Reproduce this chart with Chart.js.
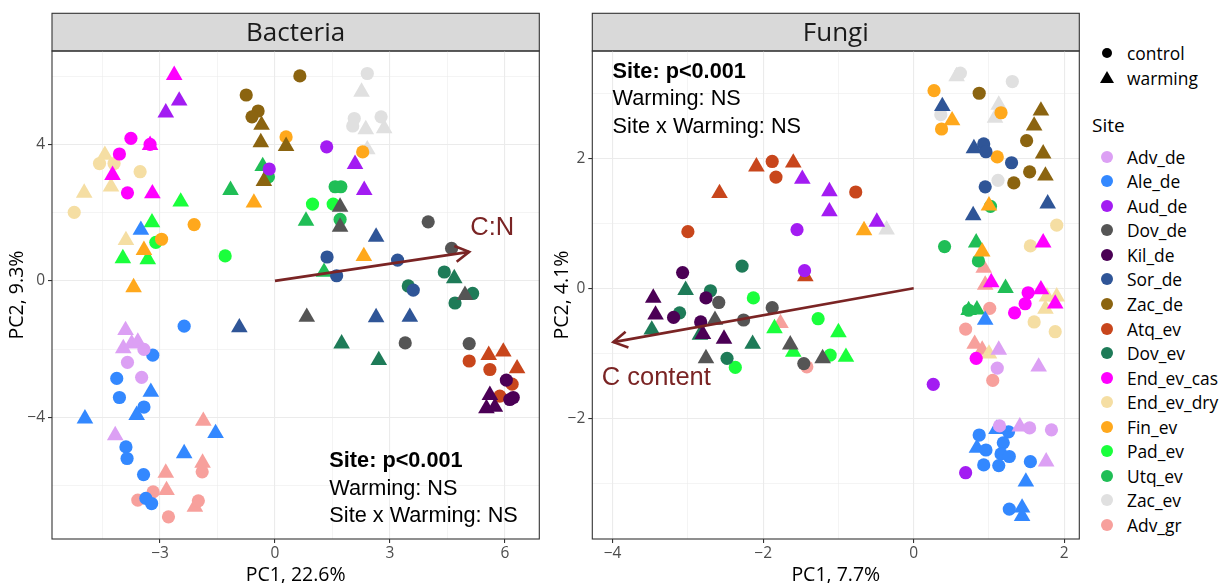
<!DOCTYPE html>
<html>
<head>
<meta charset="utf-8">
<script src="https://cdn.jsdelivr.net/npm/chart.js@4.4.1/dist/chart.umd.min.js"></script>
<style>
  html, body { margin:0; padding:0; background:#fff; }
  body { width:1223px; height:583px; position:relative; overflow:hidden; font-family:"Open Sans", sans-serif; }
  #c1 { position:absolute; left:0; top:0; }
  #c2 { position:absolute; left:545px; top:0; }
  .lt { position:absolute; color:#000; font-size:17.4px; line-height:22px; white-space:nowrap; }
  .dot { position:absolute; border-radius:50%; }
</style>
</head>
<body>
<canvas id="c1" width="545" height="583"></canvas>
<canvas id="c2" width="540" height="583"></canvas>
<div id="legend"></div>
<script>
// ---------------- DATA ----------------
const sites = ['Adv_de','Ale_de','Aud_de','Dov_de','Kil_de','Sor_de','Zac_de','Atq_ev','Dov_ev',
               'End_ev_cas','End_ev_dry','Fin_ev','Pad_ev','Utq_ev','Zac_ev','Adv_gr'];
const treatments = ['control','warming'];

// Bacteria: [PC1, PC2] pairs per site (order of `sites`)
const bacteriaControl = [
  [[-3.42,-2.01],[-3.85,-2.39],[-3.48,-2.83]],
  [[-2.37,-1.33],[-3.19,-2.18],[-4.13,-2.86],[-4.06,-3.42],[-3.42,-3.70],[-3.89,-4.87],[-3.86,-5.21],[-3.43,-5.68],[-3.37,-6.38],[-3.22,-6.53]],
  [[-0.15,3.28],[1.35,3.93]],
  [[4.00,1.73],[4.61,0.95],[3.40,-1.82],[5.07,-1.84]],
  [[6.04,-2.91],[6.22,-3.42],[6.13,-3.48]],
  [[1.36,0.70],[1.61,0.15],[3.20,0.61],[3.61,-0.27]],
  [[-0.75,5.45],[-0.44,4.98],[-0.60,4.81],[0.65,6.01]],
  [[5.07,-2.35],[5.61,-2.60],[6.19,-3.03],[5.87,-3.38]],
  [[3.48,-0.15],[4.42,0.26],[4.70,-0.65],[5.16,-0.37]],
  [[-3.76,4.18],[-4.06,3.72],[-3.26,4.00],[-3.85,2.58]],
  [[-4.58,3.44],[-4.20,3.44],[-3.52,3.20],[-5.24,2.01]],
  [[-2.96,1.22],[-2.11,1.65],[0.29,4.22],[2.29,3.78]],
  [[-3.11,1.13],[-1.30,0.73],[0.98,2.25],[1.52,2.25]],
  [[-0.17,3.05],[1.57,2.76],[1.72,2.76],[1.70,1.80]],
  [[2.41,6.08],[2.07,4.76],[2.03,4.54],[2.77,4.81]],
  [[-1.90,-5.60],[-3.18,-6.19],[-3.58,-6.43],[-2.78,-6.92],[-2.00,-6.45]]
];
const bacteriaWarming = [
  [[-3.90,-1.45],[-3.96,-1.98],[-3.74,-1.84],[-3.58,-1.79],[-4.17,-4.53]],
  [[-3.50,1.49],[-3.24,-3.26],[-3.61,-3.94],[-4.96,-4.04],[-2.37,-5.06],[-1.55,-4.47]],
  [[-2.50,5.28],[-2.85,4.93],[2.09,3.42],[2.33,2.66]],
  [[1.70,2.17],[1.70,1.58],[4.96,-0.42],[0.83,-1.06]],
  [[5.61,-3.35],[5.52,-3.74],[5.74,-3.70]],
  [[2.64,1.29],[2.64,-1.07],[3.52,-1.06],[-0.93,-1.37]],
  [[-0.35,4.57],[-0.37,4.06],[0.29,3.95],[-0.29,2.92]],
  [[5.58,-2.18],[5.96,-2.08],[6.32,-2.57]],
  [[4.68,0.07],[1.74,-1.84],[2.71,-2.33]],
  [[-2.63,6.03],[-3.26,3.98],[-4.24,3.10],[-3.20,2.56]],
  [[-4.44,3.69],[-4.28,2.76],[-4.98,2.58],[-3.89,1.19]],
  [[-3.42,0.90],[-3.69,-0.19],[-0.55,2.29],[2.32,0.72]],
  [[-2.46,2.32],[-3.21,1.71],[-3.97,0.66],[-3.32,0.63]],
  [[-1.16,2.66],[-0.32,3.36],[0.81,1.76],[1.28,0.26]],
  [[2.26,5.54],[2.37,4.44],[2.85,4.47],[2.41,3.85]],
  [[-1.87,-4.11],[-1.89,-5.34],[-2.85,-5.63],[-2.83,-6.14],[-2.09,-6.63]]
];

// Fungi: [PC1, PC2] pairs per site
const fungiControl = [
  [[1.11,-1.23],[1.14,-2.12],[1.54,-2.15],[1.83,-2.18]],
  [[0.87,-2.26],[1.26,-2.21],[1.19,-2.38],[0.96,-2.49],[1.16,-2.55],[1.27,-2.59],[0.93,-2.72],[1.13,-2.73],[1.55,-2.67],[1.27,-3.40]],
  [[-1.55,0.90],[-1.45,0.27],[0.26,-1.48],[0.69,-2.84]],
  [[-2.59,-0.22],[-2.26,-0.49],[-1.88,-0.30],[-1.46,-1.16]],
  [[-3.07,0.24],[-3.19,-0.45],[-2.76,-0.15],[-2.83,-0.52]],
  [[0.93,2.22],[0.96,2.10],[1.30,1.93],[0.95,1.56]],
  [[0.87,3.00],[1.50,2.27],[1.54,1.79],[1.33,1.62]],
  [[-1.88,1.95],[-1.83,1.71],[-0.77,1.48],[-3.00,0.87]],
  [[-2.70,-0.04],[-3.11,-0.38],[-2.28,0.34],[-2.48,-1.08]],
  [[1.52,-0.07],[1.48,-0.24],[1.34,-0.38],[0.83,-1.08]],
  [[1.90,0.97],[1.55,0.65],[1.60,-0.52],[1.88,-0.67]],
  [[0.27,3.04],[1.16,2.70],[0.37,2.45],[1.11,2.02]],
  [[-2.13,-0.15],[-1.27,-0.47],[-1.11,-1.03],[-2.37,-1.22]],
  [[1.02,1.26],[0.41,0.64],[0.86,0.42],[0.73,-0.34]],
  [[0.62,3.31],[1.31,3.18],[0.36,2.67],[1.12,1.66]],
  [[1.01,-0.31],[0.69,-0.63],[1.05,-1.42],[-1.42,-1.21]]
];
const fungiWarming = [
  [[1.13,-0.95],[1.66,-1.21],[1.41,-2.13],[1.76,-2.67]],
  [[0.95,-0.49],[1.10,-2.17],[0.84,-2.46],[1.49,-2.98],[1.44,-3.38],[1.44,-3.51]],
  [[-1.48,1.68],[-1.12,1.49],[-1.12,1.18],[-0.49,1.02]],
  [[-2.64,-0.49],[-2.76,-1.08],[-1.64,-0.87],[-1.21,-1.08]],
  [[-3.46,-0.15],[-3.43,-0.41],[-2.80,-0.71],[-2.52,-0.78]],
  [[0.38,2.80],[0.80,2.15],[0.79,1.12],[1.78,1.30]],
  [[1.69,2.73],[1.60,2.50],[1.72,2.07],[1.75,1.73]],
  [[-2.09,1.87],[-1.60,1.93],[-2.58,1.46],[-1.44,0.18]],
  [[-3.03,-0.03],[-3.48,-0.64],[-2.84,-0.72],[-2.14,-0.86]],
  [[1.72,0.70],[1.03,0.09],[1.69,-0.02],[1.88,-0.24]],
  [[1.77,-0.13],[1.90,-0.13],[1.75,-0.32],[1.00,-1.01]],
  [[0.51,2.58],[1.00,1.27],[0.91,0.56],[-0.66,0.89]],
  [[-1.85,-0.62],[-1.00,-0.68],[-0.90,-1.06],[-1.60,-0.98]],
  [[0.83,0.70],[1.22,0.00],[0.73,-0.34],[0.84,-0.33]],
  [[0.57,3.26],[1.13,2.82],[1.08,2.62],[-0.36,0.90]],
  [[0.93,0.31],[0.95,0.05],[0.81,-0.86],[0.91,-0.95],[-1.77,-0.54]]
];

// Tick labels
const bacteriaXTicks = [-3, 0, 3, 6];
const bacteriaYTicks = [-4, 0, 4];
const fungiXTicks = [-4, -2, 0, 2];
const fungiYTicks = [-2, 0, 2];

// Axis titles and facet titles
const panelTitles = ['Bacteria', 'Fungi'];
const bacteriaAxisTitles = ['PC1, 22.6%', 'PC2, 9.3%'];
const fungiAxisTitles = ['PC1, 7.7%', 'PC2, 4.1%'];

// Environmental vectors (end point) and their labels
const bacteriaVector = [5.07, 0.85];
const bacteriaVectorLabel = 'C:N';
const bacteriaVectorLabelAt = [5.67, 1.55];
const fungiVector = [-3.99, -0.83];
const fungiVectorLabel = 'C content';
const fungiVectorLabelAt = [-3.42, -1.38];

// PERMANOVA statistics text
const statsLines = ['Site: p<0.001', 'Warming: NS', 'Site x Warming: NS'];
const bacteriaStatsAt = [1.42, -5.29];
const fungiStatsAt = [-4.00, 3.33];

// ---------------- STYLE ----------------
const siteColors = ['#DCA0F4','#3388FF','#A31CF2','#555555','#4B0055','#2F5597','#8B6410','#C8461C',
                    '#1E7B58','#FF00FF','#F5DEA3','#FFA81C','#1AFF3C','#20BE56','#E0E0E0','#F7A09C'];
const ARROW = '#7A2424';
const CIRCLE_R = 6.6, TRI_R = 9.6;

function fmt(v){ return v < 0 ? '\u2212' + Math.abs(v) : String(v); }

function makeAxis(major, min, max, title, isX, fitSize) {
  const step = major[1] - major[0];
  const h = step / 2;
  const isMajor = v => major.some(m => Math.abs(m - v) < 1e-6);
  return {
    type: 'linear', min, max,
    afterBuildTicks: sc => {
      const vals = [];
      let v = major[0];
      while (v - h >= min - 1e-9) v -= h;
      for (; v <= max + 1e-9; v += h) vals.push(+v.toFixed(6));
      sc.ticks = vals.map(value => ({ value }));
    },
    afterFit: sc => {
      if (isX) sc.height = fitSize; else sc.width = fitSize;
      sc.paddingLeft = 0; sc.paddingRight = 0; sc.paddingTop = 0; sc.paddingBottom = 0;
    },
    ticks: {
      autoSkip: false, maxRotation: 0, minRotation: 0,
      color: '#4d4d4d', font: { family: '"Open Sans"', size: 15.5 },
      padding: isX ? 1 : 3,
      callback: v => isMajor(v) ? fmt(v) : ''
    },
    grid: {
      color: '#ebebeb',
      lineWidth: c => (c.tick && isMajor(c.tick.value)) ? 1.1 : 0.55,
      drawTicks: true, tickLength: 4, tickWidth: 1.1,
      tickColor: c => (c.tick && isMajor(c.tick.value)) ? '#333333' : 'rgba(0,0,0,0)'
    },
    border: { display: false },
    title: {
      display: true, text: title, color: '#000',
      font: { family: '"Open Sans"', size: 19.5, lineHeight: 1 },
      padding: isX ? { top: 0, bottom: -2 } : { top: 8, bottom: 0 }
    }
  };
}

const panelPlugin = {
  id: 'panel',
  beforeDraw(chart, args, o) {
    const { ctx, chartArea: a } = chart;
    ctx.save();
    ctx.fillStyle = '#fff';
    ctx.fillRect(0, 0, chart.width, chart.height);
    const top = 13.3;
    ctx.fillStyle = '#d9d9d9';
    ctx.fillRect(a.left, top, a.right - a.left, a.top - top);
    ctx.strokeStyle = '#333333'; ctx.lineWidth = 1.1;
    ctx.strokeRect(a.left, top, a.right - a.left, a.top - top);
    ctx.fillStyle = '#1a1a1a';
    ctx.font = '26px "Open Sans"';
    ctx.textAlign = 'center'; ctx.textBaseline = 'middle';
    ctx.fillText(o.title, (a.left + a.right) / 2, (top + a.top) / 2 + 1);
    ctx.restore();
  },
  afterDatasetsDraw(chart, args, o) {
    const { ctx, chartArea: a, scales: { x, y } } = chart;
    ctx.save();
    // vector arrow
    const x0 = x.getPixelForValue(0), y0 = y.getPixelForValue(0);
    const x1 = x.getPixelForValue(o.vector[0]), y1 = y.getPixelForValue(o.vector[1]);
    ctx.strokeStyle = ARROW; ctx.lineWidth = 2.6; ctx.lineCap = 'butt';
    ctx.beginPath(); ctx.moveTo(x0, y0); ctx.lineTo(x1, y1); ctx.stroke();
    const ang = Math.atan2(y1 - y0, x1 - x0), L = 16, w = Math.PI / 6;
    ctx.beginPath();
    ctx.moveTo(x1 - L * Math.cos(ang - w), y1 - L * Math.sin(ang - w));
    ctx.lineTo(x1, y1);
    ctx.lineTo(x1 - L * Math.cos(ang + w), y1 - L * Math.sin(ang + w));
    ctx.stroke();
    ctx.fillStyle = ARROW;
    ctx.font = '25.5px "Liberation Sans"';
    ctx.textAlign = 'center'; ctx.textBaseline = 'middle';
    ctx.fillText(o.vectorLabel, x.getPixelForValue(o.vectorLabelAt[0]), y.getPixelForValue(o.vectorLabelAt[1]));
    // stats text
    ctx.fillStyle = '#000'; ctx.textAlign = 'left';
    const sx = x.getPixelForValue(o.statsAt[0]), sy = y.getPixelForValue(o.statsAt[1]);
    statsLines.forEach((t, i) => {
      ctx.font = (i === 0 ? 'bold ' : '') + '21.7px "Liberation Sans"';
      ctx.fillText(t, sx, sy + i * 27.5);
    });
    // panel border
    ctx.strokeStyle = '#333333'; ctx.lineWidth = 1.1;
    ctx.strokeRect(a.left, a.top, a.right - a.left, a.bottom - a.top);
    ctx.restore();
  }
};

function buildDatasets(control, warming) {
  const ds = [];
  sites.forEach((s, i) => {
    [control, warming].forEach((set, k) => {
      const tri = k === 1;
      ds.push({
        label: s + ' ' + treatments[k],
        data: set[i].map(([px, py]) => ({ x: px, y: py })),
        pointStyle: tri ? 'triangle' : 'circle',
        pointRadius: tri ? TRI_R : CIRCLE_R,
        pointHoverRadius: tri ? TRI_R : CIRCLE_R,
        backgroundColor: siteColors[i], borderColor: siteColors[i],
        pointBackgroundColor: siteColors[i], pointBorderColor: siteColors[i],
        borderWidth: 0, pointBorderWidth: 0, showLine: false
      });
    });
  });
  return ds;
}

function makeChart(id, o) {
  return new Chart(document.getElementById(id), {
    type: 'scatter',
    data: { datasets: buildDatasets(o.control, o.warming) },
    options: {
      responsive: false, animation: false, devicePixelRatio: 1,
      layout: { autoPadding: false, padding: { top: 51, right: o.padRight, left: 0, bottom: 0 } },
      plugins: {
        legend: { display: false }, tooltip: { enabled: false },
        panel: { title: o.title, vector: o.vector, vectorLabel: o.vectorLabel,
                 vectorLabelAt: o.vectorLabelAt, statsAt: o.statsAt }
      },
      scales: {
        x: makeAxis(o.xTicks, o.xMin, o.xMax, o.axisTitles[0], true, 44),
        y: makeAxis(o.yTicks, o.yMin, o.yMax, o.axisTitles[1], false, o.yWidth)
      }
    },
    plugins: [panelPlugin]
  });
}

makeChart('c1', {
  control: bacteriaControl, warming: bacteriaWarming, title: panelTitles[0],
  xTicks: bacteriaXTicks, yTicks: bacteriaYTicks, xMin: -5.82, xMax: 6.90, yMin: -7.57, yMax: 6.74,
  axisTitles: bacteriaAxisTitles, vector: bacteriaVector, vectorLabel: bacteriaVectorLabel,
  vectorLabelAt: bacteriaVectorLabelAt, statsAt: bacteriaStatsAt, padRight: 5.7, yWidth: 52
});
makeChart('c2', {
  control: fungiControl, warming: fungiWarming, title: panelTitles[1],
  xTicks: fungiXTicks, yTicks: fungiYTicks, xMin: -4.27, xMax: 2.20, yMin: -3.86, yMax: 3.65,
  axisTitles: fungiAxisTitles, vector: fungiVector, vectorLabel: fungiVectorLabel,
  vectorLabelAt: fungiVectorLabelAt, statsAt: fungiStatsAt, padRight: 5.7, yWidth: 47.3
});

// ---------------- LEGEND (HTML) ----------------
const leg = document.getElementById('legend');
function addText(txt, left, cy, size) {
  const d = document.createElement('div');
  d.className = 'lt'; d.textContent = txt;
  d.style.left = left + 'px'; d.style.top = (cy - 11) + 'px';
  if (size) d.style.fontSize = size + 'px';
  leg.appendChild(d);
}
function addDot(cx, cy, r, color) {
  const d = document.createElement('div');
  d.className = 'dot';
  d.style.left = (cx - r) + 'px'; d.style.top = (cy - r) + 'px';
  d.style.width = (2 * r) + 'px'; d.style.height = (2 * r) + 'px';
  d.style.background = color;
  leg.appendChild(d);
}
// shape legend
addDot(1107, 52.7, 5.2, '#000');
addText(treatments[0], 1127, 52.7);
const svgNS = 'http://www.w3.org/2000/svg';
const sv = document.createElementNS(svgNS, 'svg');
sv.setAttribute('width', '16'); sv.setAttribute('height', '14');
sv.style.position = 'absolute'; sv.style.left = (1107 - 8) + 'px'; sv.style.top = (77.7 - 8) + 'px';
const poly = document.createElementNS(svgNS, 'polygon');
poly.setAttribute('points', '8,1 15,13 1,13'); poly.setAttribute('fill', '#000');
sv.appendChild(poly); leg.appendChild(sv);
addText(treatments[1], 1127, 77.7);
// site legend
addText('Site', 1092, 125, 19);
sites.forEach((s, i) => {
  const cy = 156.7 + i * 24.55;
  addDot(1107, cy, 6, siteColors[i]);
  addText(s, 1127, cy);
});
</script>
</body>
</html>
